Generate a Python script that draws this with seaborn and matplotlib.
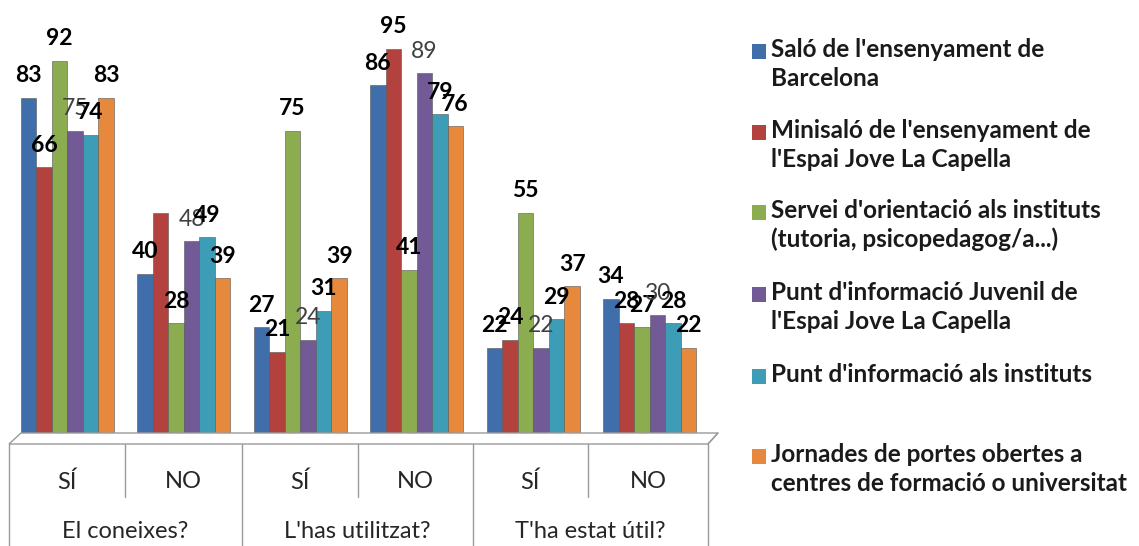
import pandas as pd
import matplotlib.pyplot as plt
import seaborn as sns
from matplotlib.patches import Rectangle, Polygon
from matplotlib.lines import Line2D

# ------------------------------------------------------------
# Dades
# ------------------------------------------------------------
preguntes = ["El coneixes?", "L'has utilitzat?", "T'ha estat útil?"]
respostes = ["SÍ", "NO"]

serveis = [
    "Saló de l'ensenyament de\nBarcelona",
    "Minisaló de l'ensenyament de\nl'Espai Jove La Capella",
    "Servei d'orientació als instituts\n(tutoria, psicopedagog/a...)",
    "Punt d'informació Juvenil de\nl'Espai Jove La Capella",
    "Punt d'informació als instituts",
    "Jornades de portes obertes a\ncentres de formació o universitat",
]
colors = ["#3f6eaa", "#b3423f", "#8bad4f", "#725a97", "#3e9db6", "#e6893c"]

# ordre: coneixes SÍ/NO, utilitzat SÍ/NO, útil SÍ/NO
salo = [83, 40, 27, 86, 22, 34]
minisalo = [66, 55, 21, 95, 24, 28]
servei_orientacio = [92, 28, 75, 41, 55, 27]
punt_juvenil = [75, 48, 24, 89, 22, 30]
punt_instituts = [74, 49, 31, 79, 29, 28]
jornades = [83, 39, 39, 76, 37, 22]

# etiquetes que no surten a l'original (serie, categoria)
etiquetes_ocultes = [(1, 1)]

W, H = 1139, 546


def px(x, y):
    return (x / W, 1 - y / H)


def main():
    categories = [f"{p} {r}" for p in preguntes for r in respostes]
    valors = [salo, minisalo, servei_orientacio, punt_juvenil, punt_instituts, jornades]

    files = []
    for s, vals in zip(serveis, valors):
        for c, v in zip(categories, vals):
            files.append({"categoria": c, "servei": s, "valor": v})
    df = pd.DataFrame(files)

    sns.set_theme(style="white")
    plt.rcParams['font.family'] = ['Lato', 'DejaVu Sans']

    fig = plt.figure(figsize=(W / 100, H / 100), dpi=100)
    ax = fig.add_axes([px(9, 0)[0], px(0, 438)[1], (708 - 9) / W, (438 - 28) / H])

    sns.barplot(data=df, x="categoria", y="valor", hue="servei", order=categories,
                hue_order=serveis, palette=colors, width=0.8, saturation=1,
                edgecolor="#555555", linewidth=0.4, legend=False, ax=ax)

    ax.set_ylim(0, 100)
    ax.set_xlim(-0.5, 5.5)
    ax.set_xlabel("")
    ax.set_ylabel("")
    ax.set_xticks([])
    ax.set_yticks([])
    for sp in ax.spines.values():
        sp.set_visible(False)

    # Etiquetes de valor
    for i, cont in enumerate(ax.containers):
        for j, p in enumerate(cont.patches):
            if (i, j) in etiquetes_ocultes:
                continue
            normal = (i == 3)
            ax.annotate(f"{p.get_height():.0f}",
                        (p.get_x() + p.get_width() / 2, p.get_height()),
                        xytext=(0, 22), textcoords="offset pixels",
                        ha="center", va="center", fontsize=16.5,
                        fontweight="normal" if normal else "bold",
                        color="#404040" if normal else "black", clip_on=False)

    # Terra 3D i taula de categories
    gris = "#9a9a9a"
    fig.patches.append(Polygon([px(9, 444), px(708, 444), px(718, 433), px(21, 433)],
                               closed=True, facecolor="white", edgecolor=gris,
                               linewidth=1, transform=fig.transFigure, zorder=0))
    for x in [9, 242, 473, 708]:
        fig.lines.append(Line2D([px(x, 444)[0]] * 2, [px(x, 444)[1], px(x, 546)[1]],
                                color=gris, linewidth=1, transform=fig.transFigure))
    for x in [125, 358, 588]:
        fig.lines.append(Line2D([px(x, 444)[0]] * 2, [px(x, 444)[1], px(x, 497)[1]],
                                color=gris, linewidth=1, transform=fig.transFigure))
    fig.lines.append(Line2D([px(708, 444)[0], px(718, 433)[0]],
                            [px(708, 444)[1], px(718, 433)[1]],
                            color=gris, linewidth=1, transform=fig.transFigure))

    centres_x = [67, 183, 300, 415, 530, 648]
    for k, cx in enumerate(centres_x):
        fig.text(*px(cx, 482), respostes[k % 2], ha="center", va="center", fontsize=17)
    for k, cx in enumerate([125, 357, 590]):
        fig.text(*px(cx, 531), preguntes[k], ha="center", va="center", fontsize=17)

    # Llegenda
    posicions_y = [52, 133, 213, 295, 377, 457]
    for s, c, y in zip(serveis, colors, posicions_y):
        fig.patches.append(Rectangle(px(752, y + 7), 14 / W, 15 / H, facecolor=c,
                                     edgecolor="none", transform=fig.transFigure))
        fig.text(*px(771, y - 14), s, ha="left", va="top", fontsize=17.5,
                 fontweight="bold", color="#1a1a1a", linespacing=1.3)

    plt.savefig("out.png", dpi=100)
    plt.close()


if __name__ == "__main__":
    main()
